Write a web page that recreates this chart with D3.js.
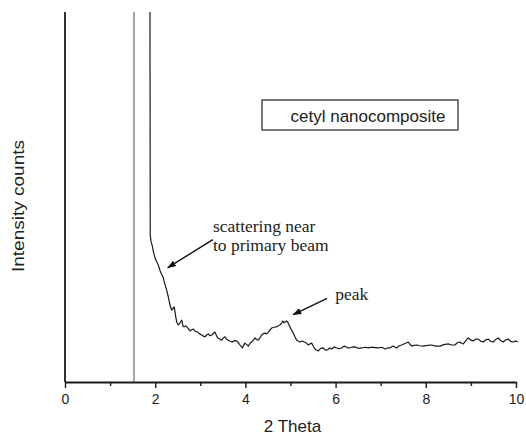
<!DOCTYPE html>
<html>
<head>
<meta charset="utf-8">
<script src="https://cdn.jsdelivr.net/npm/d3@7"></script>
<style>
  html, body { margin: 0; padding: 0; background: #fff; }
  svg { display: block; }
</style>
</head>
<body>
<svg id="chart" width="526" height="436"></svg>
<script>
// Small-angle XRD scan of the cetyl nanocomposite
const twoTheta = [
  1.88, 1.89, 1.907, 1.936, 1.96, 1.996, 2.03, 2.069, 2.11, 2.14, 2.18, 2.22, 2.255, 2.29, 2.328,
  2.366, 2.395, 2.423, 2.45, 2.477, 2.512, 2.55, 2.588, 2.62, 2.645, 2.68, 2.72, 2.772, 2.81, 2.845,
  2.89, 2.942, 2.985, 3.031, 3.07, 3.104, 3.14, 3.177, 3.215, 3.253, 3.29, 3.326, 3.356, 3.386, 3.43,
  3.474, 3.51, 3.548, 3.585, 3.621, 3.665, 3.71, 3.76, 3.807, 3.845, 3.88, 3.931, 3.96, 3.991, 4.03,
  4.064, 4.1, 4.14, 4.175, 4.213, 4.25, 4.286, 4.325, 4.361, 4.4, 4.435, 4.47, 4.508, 4.545, 4.583,
  4.64, 4.694, 4.73, 4.767, 4.8, 4.827, 4.855, 4.878, 4.91, 4.938, 4.965, 4.989, 5.025, 5.062, 5.1,
  5.137, 5.175, 5.211, 5.26, 5.306, 5.35, 5.395, 5.43, 5.47, 5.51, 5.543, 5.58, 5.616, 5.67, 5.727,
  5.775, 5.825, 5.87, 5.914, 5.97, 6.024, 6.08, 6.135, 6.17, 6.208, 6.25, 6.297, 6.36, 6.43, 6.5,
  6.579, 6.65, 6.725, 6.8, 6.88, 6.947, 7.02, 7.095, 7.15, 7.206, 7.25, 7.279, 7.32, 7.355, 7.41,
  7.466, 7.54, 7.612, 7.65, 7.687, 7.74, 7.798, 7.87, 7.945, 8.04, 8.131, 8.22, 8.315, 8.4, 8.499,
  8.57, 8.647, 8.7, 8.758, 8.8, 8.831, 8.89, 8.942, 9.0, 9.053, 9.11, 9.164, 9.22, 9.275, 9.33,
  9.386, 9.44, 9.497, 9.55, 9.607, 9.66, 9.718, 9.77, 9.829, 9.88, 9.94, 10.0, 10.04
];
const counts = [
  1400, 397, 380, 368, 352, 335, 326, 316, 300, 292, 281, 262, 248, 230, 208,
  194, 199, 203, 180, 162, 154, 160, 167, 150, 149, 152, 146, 138, 141, 143,
  137, 135, 130, 127, 124, 122, 127, 130, 125, 127, 131, 135, 126, 119, 116,
  113, 119, 122, 115, 113, 110, 108, 112, 111, 106, 100, 92, 99, 105, 101,
  97, 104, 108, 113, 119, 115, 113, 120, 127, 131, 132, 130, 135, 141, 146,
  148, 149, 152, 154, 159, 165, 160, 162, 165, 162, 155, 149, 140, 132, 122,
  113, 110, 108, 111, 108, 106, 100, 103, 105, 96, 89, 86, 84, 91, 92,
  86, 87, 92, 89, 95, 92, 90, 92, 96, 97, 93, 92, 94, 95, 91,
  92, 94, 92, 94, 93, 92, 94, 89, 92, 92, 96, 97, 94, 92, 98,
  100, 104, 108, 102, 97, 99, 100, 98, 97, 99, 100, 97, 97, 101, 103,
  100, 100, 106, 108, 104, 103, 112, 119, 113, 111, 116, 116, 110, 108, 114,
  116, 110, 108, 115, 119, 112, 108, 114, 116, 110, 108, 111, 108
];

// Position of the primary beam line
const beamLine = [1.53];

// Axis tick values
const majorTicks = [0, 2, 4, 6, 8, 10];
const minorTicks = [1, 3, 5, 7, 9];

// Text
const xTitle = "2 Theta";
const yTitle = "Intensity counts";
const legendLabel = "cetyl nanocomposite";
const noteScatter = ["scattering near", "to primary beam"];
const notePeak = ["peak"];

const svg = d3.select("#chart");
const W = 526, H = 436;
const margin = { left: 65, right: 10, top: 12, bottom: 54 };
const x0 = margin.left, x1 = W - margin.right;
const y0 = H - margin.bottom, y1 = margin.top;

const x = d3.scaleLinear().domain([0, 10]).range([x0, x1]);
const y = d3.scaleLinear().domain([0, 1000]).range([y0, y1]);

svg.append("rect").attr("width", W).attr("height", H).attr("fill", "#fff");

// Clip for the scan trace
svg.append("defs").append("clipPath").attr("id", "plot-clip")
  .append("rect").attr("x", x0).attr("y", y1).attr("width", x1 - x0 + 6).attr("height", y0 - y1);

// Arrow head marker
svg.select("defs").append("marker")
  .attr("id", "arrow").attr("viewBox", "0 0 10 10")
  .attr("refX", 9).attr("refY", 5)
  .attr("markerWidth", 9).attr("markerHeight", 9)
  .attr("markerUnits", "userSpaceOnUse")
  .attr("orient", "auto")
  .append("path").attr("d", "M0,1.5 L10,5 L0,8.5 Z").attr("fill", "#111");

// Primary beam line
svg.selectAll("line.beam").data(beamLine).join("line")
  .attr("class", "beam")
  .attr("x1", d => x(d)).attr("x2", d => x(d))
  .attr("y1", y1).attr("y2", y0)
  .attr("stroke", "#6a6a6a").attr("stroke-width", 1.2);

// Scan trace
const pts = twoTheta.map((t, i) => [t, counts[i]]);
svg.append("path")
  .datum(pts)
  .attr("clip-path", "url(#plot-clip)")
  .attr("fill", "none")
  .attr("stroke", "#1a1a1a")
  .attr("stroke-width", 1.2)
  .attr("stroke-linejoin", "round")
  .attr("d", d3.line().x(d => x(d[0])).y(d => y(d[1])));

// Y axis: plain line, no ticks
svg.append("line")
  .attr("x1", x0).attr("x2", x0).attr("y1", y1).attr("y2", y0)
  .attr("stroke", "#1a1a1a").attr("stroke-width", 1.8);

// X axis with major labelled ticks
const xAxis = svg.append("g")
  .attr("transform", `translate(0,${y0})`)
  .call(d3.axisBottom(x).tickValues(majorTicks).tickFormat(d3.format("d")).tickSize(6).tickSizeOuter(0).tickPadding(6));
xAxis.select(".domain").attr("stroke", "#1a1a1a").attr("stroke-width", 1.8);
xAxis.selectAll(".tick line").attr("stroke", "#1a1a1a").attr("stroke-width", 1.4);
xAxis.selectAll(".tick text")
  .attr("font-family", "Liberation Sans, Arial, sans-serif")
  .attr("font-size", 14).attr("fill", "#222");

// Minor ticks
svg.append("g")
  .attr("transform", `translate(0,${y0})`)
  .call(d3.axisBottom(x).tickValues(minorTicks).tickFormat("").tickSize(4).tickSizeOuter(0))
  .call(g => g.select(".domain").remove())
  .selectAll(".tick line").attr("stroke", "#1a1a1a").attr("stroke-width", 1.4);

// Axis titles
svg.append("text")
  .attr("x", (x0 + x1) / 2 + 2).attr("y", 432)
  .attr("text-anchor", "middle")
  .attr("font-family", "Liberation Sans, Arial, sans-serif")
  .attr("font-size", 17).attr("fill", "#222")
  .text(xTitle);

svg.append("text")
  .attr("transform", "translate(24,206) rotate(-90)")
  .attr("text-anchor", "middle")
  .attr("font-family", "Liberation Sans, Arial, sans-serif")
  .attr("font-size", 17).attr("fill", "#222")
  .attr("textLength", 132).attr("lengthAdjust", "spacingAndGlyphs")
  .text(yTitle);

// Legend box
const legend = svg.append("g");
legend.append("rect")
  .attr("x", 262).attr("y", 100).attr("width", 196).attr("height", 30)
  .attr("fill", "#fff").attr("stroke", "#222").attr("stroke-width", 1.2);
legend.append("text")
  .attr("x", 368).attr("y", 121.5)
  .attr("text-anchor", "middle")
  .attr("font-family", "Liberation Sans, Arial, sans-serif")
  .attr("font-size", 17).attr("fill", "#222")
  .text(legendLabel);

// Annotations (data coordinates)
const serif = "Liberation Serif, Times New Roman, serif";
function note(lines, tx, ty, from, to) {
  const t = svg.append("text")
    .attr("font-family", serif).attr("font-size", 17.5).attr("fill", "#222");
  lines.forEach((s, i) => {
    t.append("tspan").attr("x", x(tx)).attr("y", y(ty) + i * 19).text(s);
  });
  svg.append("line")
    .attr("x1", x(from[0])).attr("y1", y(from[1]))
    .attr("x2", x(to[0])).attr("y2", y(to[1]))
    .attr("stroke", "#111").attr("stroke-width", 1.4)
    .attr("marker-end", "url(#arrow)");
}
note(noteScatter, 3.28, 405, [3.28, 385], [2.28, 309]);
note(notePeak, 5.99, 221, [5.81, 226], [5.06, 182]);
</script>
</body>
</html>
